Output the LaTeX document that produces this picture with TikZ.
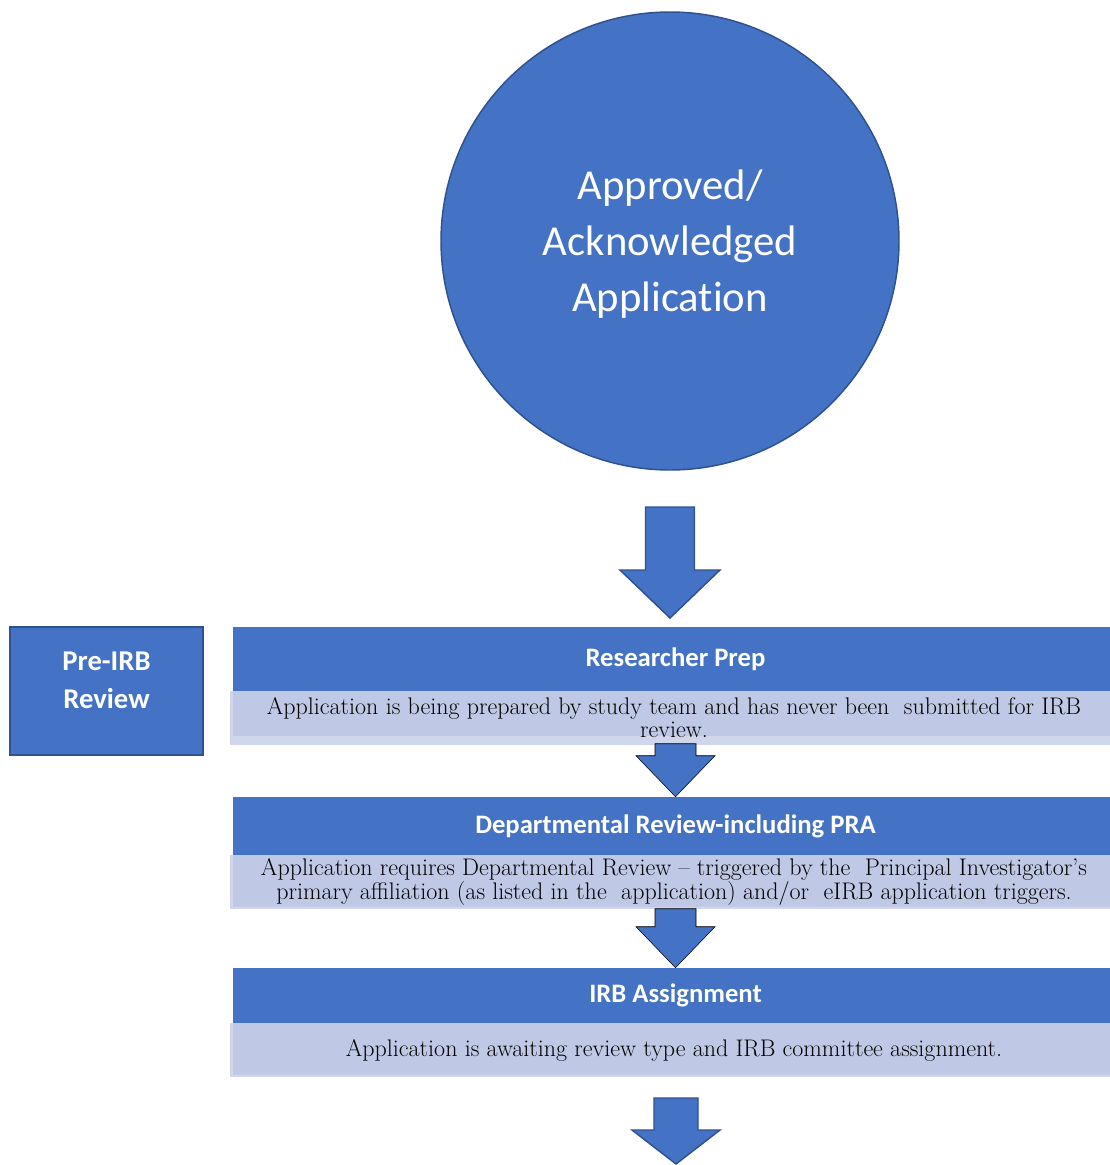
\documentclass[tikz,border=0pt]{standalone}
\usepackage{fontspec}
\usepackage{tikz}
\newfontfamily\carlito{Carlito}[Ligatures=NoCommon]
\definecolor{boxblue}{HTML}{4472C4}
\definecolor{edgeblue}{HTML}{2F528F}
\definecolor{paleblue}{HTML}{BFC8E5}
\definecolor{palerim}{HTML}{D0D7EC}
\tikzset{
  hdrbox/.style={fill=boxblue, text=white, inner sep=0pt, minimum width=663.75pt,
    font=\carlito\bfseries\fontsize{20}{24}\selectfont},
  descbox/.style={fill=palerim, inner sep=0pt, minimum width=666pt, minimum height=40.5pt,
    align=center, font=\fontsize{18}{17.4}\selectfont,
    path picture={\fill[paleblue] ([xshift=2.25pt]path picture bounding box.north west)
      rectangle ([yshift=#1]path picture bounding box.south east);}},
  descbox/.default=1.5pt,
  arrowbody/.style={fill=boxblue, draw=edgeblue, line width=1.1pt, line join=miter},
  flatarrow/.style={fill=boxblue}
}
% block arrow: tip, length, head length, shaft half width, head half width, style
\newcommand{\blockarrow}[6]{%
  \draw[#6, shift={(#1)}] (0,0) -- (-#5,-#3) -- (-#4,-#3) -- (-#4,-#2) -- (#4,-#2) -- (#4,-#3) -- (#5,-#3) -- cycle;}
\begin{document}
\begin{tikzpicture}[x=0.75pt,y=0.75pt,yscale=-1,xscale=1]
\useasboundingbox (0,0) rectangle (1110,1165);
\clip (0,0) rectangle (1110,1165);

%Shape: Circle
\node [circle, fill=boxblue, draw=edgeblue, line width=1.1pt, minimum size=343.5pt, inner sep=0pt,
  text=white, font=\carlito\fontsize{32}{42}\selectfont] (approved) at (670,241)
  {\raisebox{-2.5pt}[\height][\depth]{\parbox{300pt}{\centering Approved/\\Acknowledged\\Application}}};

%Shape: Rectangle
\node [fill=boxblue, draw=edgeblue, line width=1.5pt, minimum width=144.75pt, minimum height=96pt] (preirb) at (106.5,691) {};
% Text Node
\node [text=white, align=center, font=\carlito\bfseries\fontsize{21.5}{28.5}\selectfont] (preirblbl) at (106.5,680) {Pre-IRB\\Review};

% Researcher Prep
\node [hdrbox, minimum height=48pt] (prep) at (675.5,659) {Researcher Prep};
\node [descbox=6.75pt] (prepnote) at (674,718)
  {Application is being prepared by study team and has never been\ \ submitted for IRB\\review.};

% Departmental Review
\node [hdrbox, minimum height=43.5pt] (dept) at (675.5,826) {Departmental Review-including PRA};
\node [descbox] (deptnote) at (674,882)
  {Application requires Departmental Review -- triggered by the\ \ Principal Investigator's\\
   primary affiliation (as listed in the\ \ application) and/or\ \ eIRB application triggers.};

% IRB Assignment
\node [hdrbox, minimum height=41.25pt] (irb) at (675.5,995.5) {IRB Assignment};
\node [descbox] (irbnote) at (674,1050)
  {Application is awaiting review type and IRB committee assignment.};

%Block Arrows
\coordinate (toptip) at (670,618);
\coordinate (endtip) at (676,1164);
\blockarrow{toptip}{111}{48}{24.5}{50}{arrowbody}
\blockarrow{dept.north}{53}{41}{20.5}{39.5}{flatarrow}
\blockarrow{irb.north}{59}{41}{20.5}{39.5}{flatarrow}
\blockarrow{endtip}{66}{34}{22}{44}{arrowbody}

\end{tikzpicture}
\end{document}
